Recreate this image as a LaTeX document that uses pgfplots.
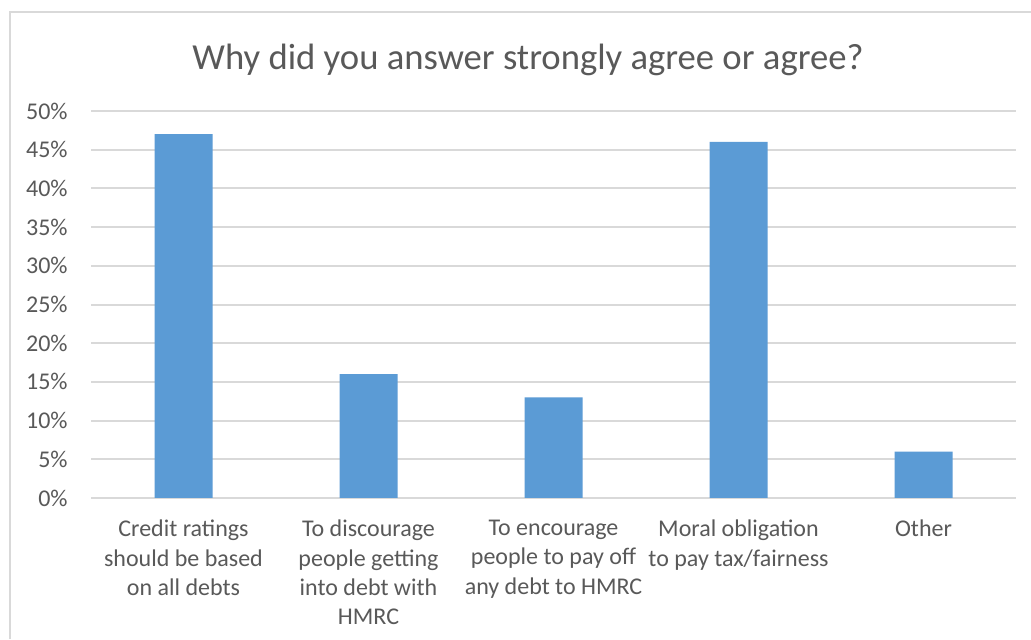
\documentclass[border=0pt]{standalone}
\usepackage{pgfplots}
\pgfplotsset{compat=1.18}
\usepackage{fontspec}
\setmainfont{Carlito}
\definecolor{barblue}{HTML}{5B9BD5}
\definecolor{txtgray}{HTML}{595959}
\definecolor{gridgray}{HTML}{D9D9D9}
\begin{document}
\begin{tikzpicture}[x=0.75pt,y=0.75pt]
\useasboundingbox[fill=white] (0,0) rectangle (1031,639);
\draw[gridgray, line width=1.5pt] (10,0) -- (10,627) -- (1031,627);
\node[text=txtgray, font=\fontsize{27.5pt}{33pt}\selectfont, anchor=base] at (528,639-70) {Why did you answer strongly agree or agree?};
\begin{axis}[
  at={(68.25pt,105.75pt)}, anchor=south west,
  scale only axis,
  width=693.75pt, height=290.25pt,
  xmin=-0.5, xmax=4.5, ymin=0, ymax=50,
  ytick={0,5,...,50},
  xtick={0,1,2,3,4},
  xticklabels={{Credit ratings\\should be based\\on all debts},{To discourage\\people getting\\into debt with\\HMRC},{To encourage\\people to pay off\\any debt to HMRC},{Moral obligation\\to pay tax/fairness},{Other}},
  yticklabel={\pgfmathprintnumber{\tick}\%},
  /pgf/number format/assume math mode=true,
  major tick length=0pt,
  axis line style={draw=none},
  ymajorgrids,
  grid style={gridgray, line width=1.5pt},
  ticklabel style={text=txtgray, font=\fontsize{18pt}{22pt}\selectfont},
  xticklabel style={align=center, anchor=north, yshift=-13pt},
  yticklabel style={anchor=east, xshift=-14pt},
  ybar, bar width=43.5pt,
  clip=false,
]
\addplot[fill=barblue, draw=none] coordinates {(0,47) (1,16) (2,13) (3,46) (4,6)};
\end{axis}
\end{tikzpicture}
\end{document}
